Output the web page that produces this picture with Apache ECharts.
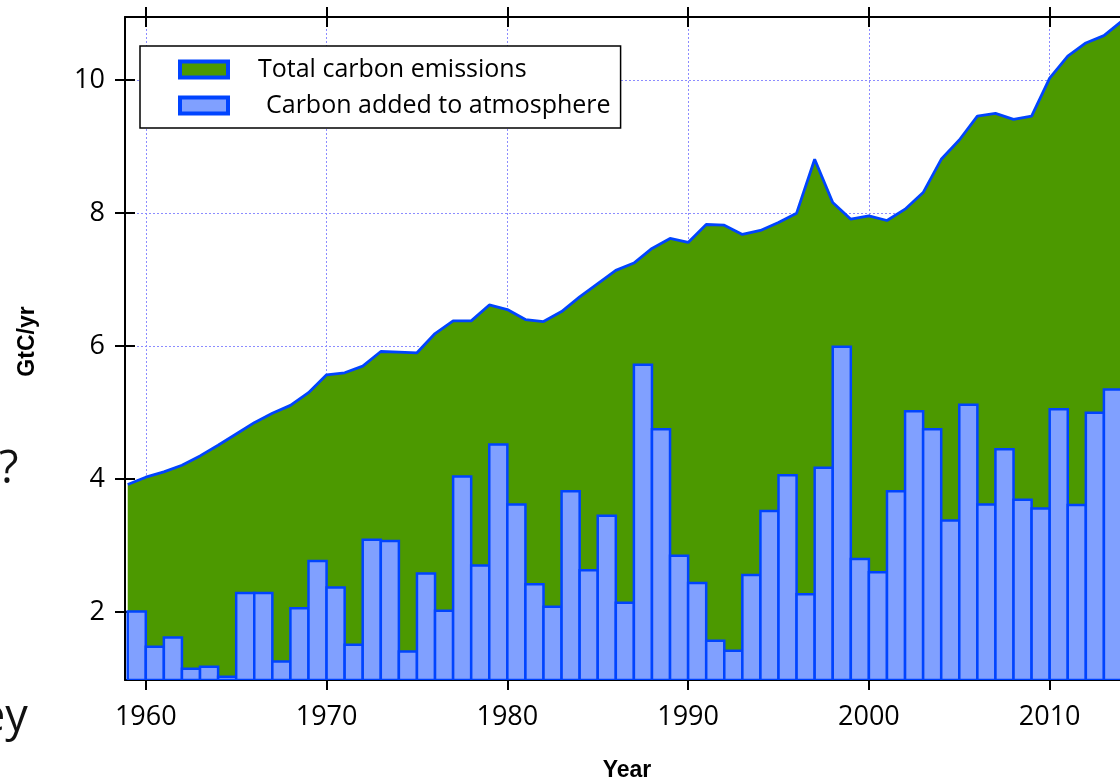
<!DOCTYPE html>
<html>
<head>
<meta charset="utf-8">
<script src="https://cdn.jsdelivr.net/npm/echarts@6/dist/echarts.min.js"></script>
<style>
  html, body { margin: 0; padding: 0; background: #fff; }
  #chart { width: 1120px; height: 780px; }
</style>
</head>
<body>
<div id="chart"></div>
<script>
// Years covered by the annual series
const years = [
  1959, 1960, 1961, 1962, 1963, 1964, 1965, 1966, 1967, 1968,
  1969, 1970, 1971, 1972, 1973, 1974, 1975, 1976, 1977, 1978,
  1979, 1980, 1981, 1982, 1983, 1984, 1985, 1986, 1987, 1988,
  1989, 1990, 1991, 1992, 1993, 1994, 1995, 1996, 1997, 1998,
  1999, 2000, 2001, 2002, 2003, 2004, 2005, 2006, 2007, 2008,
  2009, 2010, 2011, 2012, 2013, 2014
];

// Total carbon emissions, GtC/yr (1959-2014)
const totalEmissions = [
  3.92, 4.03, 4.11, 4.21, 4.35, 4.51, 4.68, 4.85, 4.99, 5.11,
  5.30, 5.57, 5.60, 5.70, 5.92, 5.91, 5.90, 6.19, 6.38, 6.38,
  6.62, 6.55, 6.40, 6.37, 6.52, 6.74, 6.94, 7.14, 7.25, 7.47,
  7.62, 7.56, 7.83, 7.82, 7.68, 7.74, 7.86, 8.00, 8.81, 8.16,
  7.91, 7.96, 7.89, 8.06, 8.31, 8.81, 9.10, 9.46, 9.50, 9.41,
  9.46, 10.03, 10.36, 10.56, 10.67, 10.89
];

// Carbon added to the atmosphere, GtC/yr (1959-2013)
const atmosphereGrowth = [
  2.01, 1.48, 1.62, 1.15, 1.18, 1.03, 2.29, 2.29, 1.26, 2.06,
  2.77, 2.37, 1.51, 3.09, 3.07, 1.41, 2.58, 2.02, 4.04, 2.70,
  4.52, 3.62, 2.42, 2.08, 3.82, 2.63, 3.45, 2.14, 5.72, 4.75,
  2.85, 2.44, 1.57, 1.42, 2.56, 3.52, 4.06, 2.27, 4.17, 5.99,
  2.80, 2.60, 3.82, 5.02, 4.75, 3.38, 5.12, 3.62, 4.45, 3.69,
  3.56, 5.05, 3.61, 5.00, 5.35
];

// Tick positions
const yearTicks = [1960, 1970, 1980, 1990, 2000, 2010];
const valueTicks = [2, 4, 6, 8, 10];

const seriesNames = ['Total carbon emissions', 'Carbon added to atmosphere'];

const GREEN = '#4c9900';
const BAR_FILL = '#80a0ff';
const BLUE = '#0044ff';
const GRID_COLOR = '#8c8cff';
// The visible window ends partway through 2014
const X_MIN = 1958.85, X_MAX = 2013.89;
const Y_MIN = 0.98, Y_MAX = 10.95;

const totalData = totalEmissions.map((v, i) => [years[i], v]);
const atmosData = atmosphereGrowth.map((v, i) => [years[i], v]);

const tickFont = { fontFamily: 'Open Sans', fontSize: 27, color: '#000' };
const titleFont = { fontFamily: 'Liberation Sans', fontWeight: 'bold', fontSize: 23, color: '#000' };

const chart = echarts.init(document.getElementById('chart'), null, { renderer: 'canvas' });

const baseX = { type: 'value', min: X_MIN, max: X_MAX, gridIndex: 0 };
const baseY = { type: 'value', min: Y_MIN, max: Y_MAX, gridIndex: 0 };
const tickLine = { color: '#000', width: 2 };

chart.setOption({
  animation: false,
  backgroundColor: '#fff',
  grid: { left: 125, top: 17, right: 0, height: 663, containLabel: false, outerBoundsMode: 'none' },
  xAxis: [
    Object.assign({}, baseX, {
      position: 'bottom',
      name: 'Year', nameLocation: 'middle', nameGap: 79,
      nameTextStyle: Object.assign({ padding: [0, 0, 0, 9] }, titleFont),
      axisLine: { show: true, onZero: false, lineStyle: tickLine },
      axisTick: { show: true, inside: false, length: 10, customValues: yearTicks, lineStyle: tickLine },
      axisLabel: { show: true, margin: 24, customValues: yearTicks, formatter: v => String(v), ...tickFont },
      splitLine: { show: true, lineStyle: { color: GRID_COLOR, width: 1, type: [2, 2] } }
    }),
    Object.assign({}, baseX, {
      position: 'top',
      axisLine: { show: true, onZero: false, lineStyle: tickLine },
      axisTick: { show: true, inside: false, length: 10, customValues: yearTicks, lineStyle: tickLine },
      axisLabel: { show: false },
      splitLine: { show: false }
    }),
    Object.assign({}, baseX, {
      position: 'top',
      axisLine: { show: false },
      axisTick: { show: true, inside: true, length: 10, customValues: yearTicks, lineStyle: tickLine },
      axisLabel: { show: false },
      splitLine: { show: false }
    })
  ],
  yAxis: [
    Object.assign({}, baseY, {
      position: 'left',
      name: 'GtC/yr', nameLocation: 'middle', nameRotate: 90, nameGap: 86,
      nameTextStyle: Object.assign({ padding: [0, 0, 0, 14] }, titleFont),
      axisLine: { show: true, onZero: false, lineStyle: tickLine },
      axisTick: { show: true, inside: false, length: 10, customValues: valueTicks, lineStyle: tickLine },
      axisLabel: { show: true, margin: 20, customValues: valueTicks, ...tickFont },
      splitLine: { show: true, lineStyle: { color: GRID_COLOR, width: 1, type: [2, 2] } }
    }),
    Object.assign({}, baseY, {
      position: 'left',
      axisLine: { show: false },
      axisTick: { show: true, inside: true, length: 10, customValues: valueTicks, lineStyle: tickLine },
      axisLabel: { show: false },
      splitLine: { show: false }
    })
  ],
  legend: {
    left: 140, top: 46, orient: 'vertical',
    backgroundColor: '#fff', borderColor: '#000', borderWidth: 1.5, borderRadius: 0,
    padding: [11, 10, 10, 38],
    itemGap: 11, itemWidth: 48, itemHeight: 16, icon: 'rect',
    selectedMode: false,
    textStyle: { fontFamily: 'Open Sans', fontSize: 25, color: '#000' },
    data: [
      { name: seriesNames[0], itemStyle: { color: GREEN, borderColor: BLUE, borderWidth: 4 }, textStyle: { padding: [0, 0, 0, 25] } },
      { name: seriesNames[1], itemStyle: { color: BAR_FILL, borderColor: BLUE, borderWidth: 4 }, textStyle: { padding: [0, 0, 0, 33] } }
    ]
  },
  graphic: [
    { type: 'text', left: -1, top: 448, style: { text: '?', font: '45px "Open Sans"', fill: '#111' }, silent: true },
    { type: 'text', left: -20, top: 696, style: { text: 'ey', font: '45px "Open Sans"', fill: '#111' }, silent: true }
  ],
  series: [
    {
      name: seriesNames[0],
      type: 'line',
      xAxisIndex: 0, yAxisIndex: 0,
      data: totalData,
      showSymbol: false,
      symbol: 'none',
      clip: true,
      lineStyle: { color: BLUE, width: 2.8 },
      itemStyle: { color: GREEN },
      areaStyle: { color: GREEN, opacity: 1, origin: 'start' },
      z: 2
    },
    {
      name: seriesNames[1],
      type: 'custom',
      xAxisIndex: 0, yAxisIndex: 0,
      data: atmosData,
      clip: true,
      itemStyle: { color: BAR_FILL, borderColor: BLUE, borderWidth: 2 },
      renderItem: function (params, api) {
        const yr = api.value(0);
        const v = api.value(1);
        const topLeft = api.coord([yr, v]);
        const bottomRight = api.coord([yr + 1, Y_MIN]);
        return {
          type: 'rect',
          shape: {
            x: topLeft[0], y: topLeft[1],
            width: bottomRight[0] - topLeft[0],
            height: bottomRight[1] - topLeft[1]
          },
          style: { fill: BAR_FILL, stroke: BLUE, lineWidth: 2.5 }
        };
      },
      z: 3
    }
  ]
});
</script>
</body>
</html>
